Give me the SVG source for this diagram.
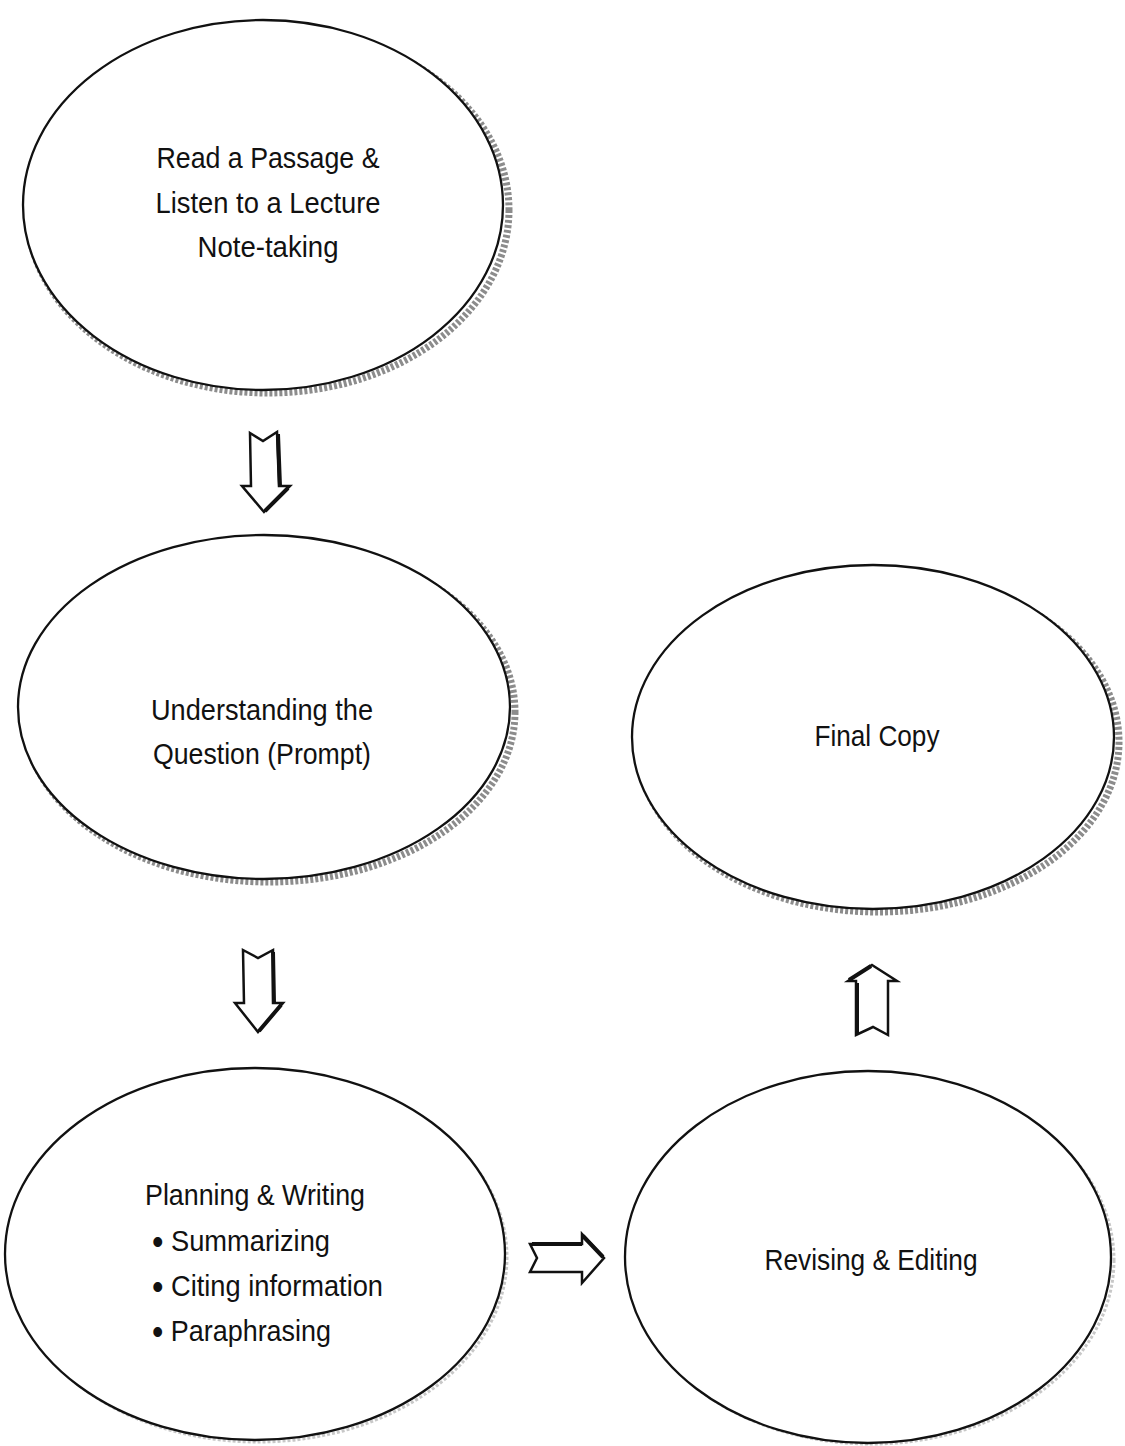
<svg xmlns="http://www.w3.org/2000/svg" width="1125" height="1446" viewBox="0 0 1125 1446">
<style>
.bg{fill:#ffffff}
.shadow{fill:none;stroke:#8c8c8c;stroke-width:7;stroke-dasharray:3 2}
.node{fill:#ffffff;stroke:#111111;stroke-width:2.3}
.lbl{font-family:"Liberation Sans",Arial,sans-serif;font-size:30px;fill:#111111;text-anchor:middle}
.lbll{font-family:"Liberation Sans",Arial,sans-serif;font-size:30px;fill:#111111}
.arrow{fill:#ffffff;stroke:#111111;stroke-width:2.5;stroke-linejoin:miter}
.ashade{fill:none;stroke:#111111;stroke-width:4}
</style>
<rect class="bg" x="0" y="0" width="1125" height="1446"/>

<g id="node-read">
  <ellipse class="shadow" cx="268" cy="210" rx="241" ry="183"/>
  <ellipse class="node" cx="263" cy="205" rx="240" ry="185"/>
  <text class="lbl" x="268" y="168" textLength="223" lengthAdjust="spacingAndGlyphs">Read a Passage &amp;</text>
  <text class="lbl" x="268" y="213" textLength="225" lengthAdjust="spacingAndGlyphs">Listen to a Lecture</text>
  <text class="lbl" x="268" y="257" textLength="141" lengthAdjust="spacingAndGlyphs">Note-taking</text>
</g>

<g id="node-understanding">
  <ellipse class="shadow" cx="269" cy="712" rx="246" ry="170"/>
  <ellipse class="node" cx="264" cy="707" rx="246" ry="172"/>
  <text class="lbl" x="262" y="720" textLength="222" lengthAdjust="spacingAndGlyphs">Understanding the</text>
  <text class="lbl" x="262" y="764" textLength="218" lengthAdjust="spacingAndGlyphs">Question (Prompt)</text>
</g>

<g id="node-planning">
  <ellipse class="shadow" cx="258" cy="1257" rx="249" ry="185" style="stroke:#c8c8c8;stroke-width:3"/>
  <ellipse class="node" cx="255" cy="1254" rx="250" ry="186"/>
  <text class="lbll" x="145" y="1205" textLength="220" lengthAdjust="spacingAndGlyphs">Planning &amp; Writing</text>
  <text class="lbll" x="152" y="1251" textLength="178" lengthAdjust="spacingAndGlyphs"><tspan font-size="36" dy="3">•</tspan><tspan dy="-3"> Summarizing</tspan></text>
  <text class="lbll" x="152" y="1296" textLength="231" lengthAdjust="spacingAndGlyphs"><tspan font-size="36" dy="3">•</tspan><tspan dy="-3"> Citing information</tspan></text>
  <text class="lbll" x="152" y="1341" textLength="179" lengthAdjust="spacingAndGlyphs"><tspan font-size="36" dy="3">•</tspan><tspan dy="-3"> Paraphrasing</tspan></text>
</g>

<g id="node-final">
  <ellipse class="shadow" cx="878" cy="742" rx="241" ry="170"/>
  <ellipse class="node" cx="873" cy="737" rx="241" ry="172"/>
  <text class="lbl" x="877" y="746" textLength="125" lengthAdjust="spacingAndGlyphs">Final Copy</text>
</g>

<g id="node-revising">
  <ellipse class="shadow" cx="871" cy="1260" rx="243" ry="184" style="stroke:#c8c8c8;stroke-width:3"/>
  <ellipse class="node" cx="868" cy="1257" rx="243" ry="186"/>
  <text class="lbl" x="871" y="1270" textLength="213" lengthAdjust="spacingAndGlyphs">Revising &amp; Editing</text>
</g>

<g id="connectors">
  <g id="arrow-read-understanding">
    <polygon class="arrow" points="250,433 263,441 277,432 279,486 290,486 264,512 242,486 251,486"/>
    <path class="ashade" d="M278,434 L280,486 M288,488 L265,511"/>
  </g>
  <g id="arrow-understanding-planning">
    <polygon class="arrow" points="243,950 258,958 273,950 273,1003 283,1003 258,1032 235,1003 244,1003"/>
    <path class="ashade" d="M273,952 L274,1003 M281,1005 L259,1031"/>
  </g>
  <g id="arrow-planning-revising">
    <polygon class="arrow" points="530,1244 582,1244 582,1234 604,1258 582,1283 582,1272 530,1272 537,1258"/>
    <path class="ashade" d="M532,1244 L582,1244 M583,1236 L603,1257"/>
  </g>
  <g id="arrow-revising-final">
    <polygon class="arrow" points="872,965 897,981 888,981 888,1035 873,1027 856,1035 856,981 848,981"/>
    <path class="ashade" d="M857,983 L857,1034 M849,980 L871,966"/>
  </g>
</g>
</svg>
